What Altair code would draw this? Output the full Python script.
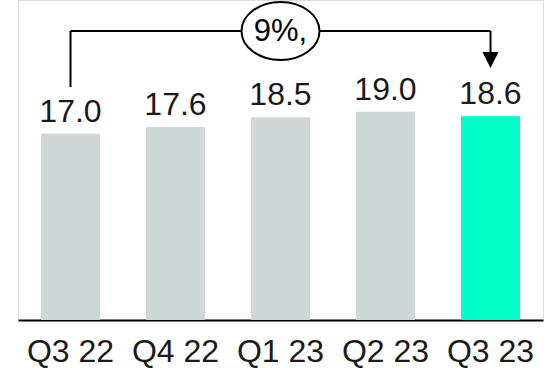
import altair as alt
import pandas as pd

quarters = ["Q3 22", "Q4 22", "Q1 23", "Q2 23", "Q3 23"]
values = [17.0, 17.6, 18.5, 19.0, 18.6]
highlight = ["base", "base", "base", "base", "current"]
growth_label = "9%,"

FONT = "Liberation Sans"
df = pd.DataFrame({"quarter": quarters, "value": values, "kind": highlight,
                   "label": [f"{v:.1f}" for v in values]})

xscale = alt.Scale(domain=quarters, paddingInner=0.438, paddingOuter=0.219)
x = alt.X("quarter:N", title=None, scale=xscale,
          axis=alt.Axis(labelAngle=0, labelFont=FONT, labelFontSize=32, labelColor="#1a1a1a",
                        ticks=False, domainColor="#000000", domainWidth=2, labelPadding=16,
                        grid=False))
y = alt.Y("value:Q", title=None, scale=alt.Scale(domain=[0, 29.2], nice=False, zero=True), axis=None)

base = alt.Chart(df)
bars = base.mark_bar().encode(
    x=x, y=y,
    color=alt.Color("kind:N", scale=alt.Scale(domain=["base", "current"], range=["#CFD8D6", "#00FFC6"]), legend=None),
)
labels = base.mark_text(baseline="alphabetic", dy=-12, font=FONT, fontSize=32, color="#1a1a1a").encode(
    x=alt.X("quarter:N", scale=xscale), y="value:Q", text="label:N")

ann = pd.DataFrame({"start": [quarters[0]], "end": [quarters[-1]], "mid": [quarters[2]], "txt": [growth_label]})
a = alt.Chart(ann)
left_v = a.mark_rule(color="#000000", strokeWidth=2).encode(
    x=alt.X("start:N", scale=xscale), y=alt.value(87), y2=alt.value(31))
horiz = a.mark_rule(color="#000000", strokeWidth=2).encode(
    x=alt.X("start:N", scale=xscale), x2="end:N", y=alt.value(31))
right_v = a.mark_rule(color="#000000", strokeWidth=2).encode(
    x=alt.X("end:N", scale=xscale), y=alt.value(31), y2=alt.value(56))
arrow = a.mark_point(shape="M-1,-1L1,-1L0,1Z", size=256, filled=True, color="#000000", opacity=1).encode(
    x=alt.X("end:N", scale=xscale), y=alt.value(60))
ellipse = a.mark_point(shape="M-1,0A1,0.744 0 1,0 1,0A1,0.744 0 1,0 -1,0Z", size=6084,
                       filled=False, fill="#ffffff", fillOpacity=1, stroke="#000000", strokeWidth=2, opacity=1).encode(
    x=alt.X("mid:N", scale=xscale), y=alt.value(31))
etext = a.mark_text(font=FONT, fontSize=31, color="#000000", baseline="middle", dy=1).encode(
    x=alt.X("mid:N", scale=xscale), y=alt.value(31), text="txt:N")

chart = alt.layer(bars, labels, left_v, horiz, right_v, arrow, ellipse, etext).properties(
    width=525, height=320,
    autosize=alt.AutoSizeParams(type="none"),
    padding={"left": 18, "top": 0, "right": 16, "bottom": 48},
).configure_view(stroke=None).configure(background="#ffffff")

chart.save("out.html", embed_options={"renderer": "svg", "actions": False})
